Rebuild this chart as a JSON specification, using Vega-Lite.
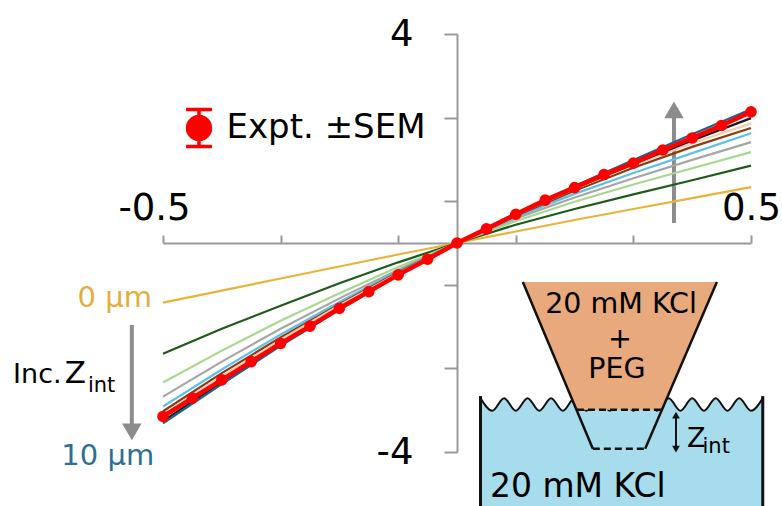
{
 "$schema": "https://vega.github.io/schema/vega-lite/v6.json",
 "width": 588,
 "height": 418,
 "autosize": "none",
 "padding": {"left": 163, "top": 34, "right": 31, "bottom": 54},
 "background": "white",
 "config": {"view": {"stroke": null}, "font": "DejaVu Sans"},
 "datasets": {
  "sim": [
   {"z":"0 µm","x":-0.5,"y":-1.14},{"z":"0 µm","x":-0.4,"y":-0.91},{"z":"0 µm","x":-0.3,"y":-0.68},{"z":"0 µm","x":-0.2,"y":-0.45},{"z":"0 µm","x":-0.1,"y":-0.22},{"z":"0 µm","x":0,"y":0},{"z":"0 µm","x":0.1,"y":0.22},{"z":"0 µm","x":0.2,"y":0.44},{"z":"0 µm","x":0.3,"y":0.65},{"z":"0 µm","x":0.4,"y":0.86},{"z":"0 µm","x":0.5,"y":1.07},
   {"z":"1 µm","x":-0.5,"y":-2.12},{"z":"1 µm","x":-0.4,"y":-1.64},{"z":"1 µm","x":-0.3,"y":-1.20},{"z":"1 µm","x":-0.2,"y":-0.77},{"z":"1 µm","x":-0.1,"y":-0.37},{"z":"1 µm","x":0,"y":0},{"z":"1 µm","x":0.1,"y":0.35},{"z":"1 µm","x":0.2,"y":0.65},{"z":"1 µm","x":0.3,"y":0.93},{"z":"1 µm","x":0.4,"y":1.20},{"z":"1 µm","x":0.5,"y":1.48},
   {"z":"2 µm","x":-0.5,"y":-2.67},{"z":"2 µm","x":-0.4,"y":-2.06},{"z":"2 µm","x":-0.3,"y":-1.49},{"z":"2 µm","x":-0.2,"y":-0.96},{"z":"2 µm","x":-0.1,"y":-0.46},{"z":"2 µm","x":0,"y":0},{"z":"2 µm","x":0.1,"y":0.42},{"z":"2 µm","x":0.2,"y":0.79},{"z":"2 µm","x":0.3,"y":1.12},{"z":"2 µm","x":0.4,"y":1.43},{"z":"2 µm","x":0.5,"y":1.74},
   {"z":"3 µm","x":-0.5,"y":-2.94},{"z":"3 µm","x":-0.4,"y":-2.27},{"z":"3 µm","x":-0.3,"y":-1.64},{"z":"3 µm","x":-0.2,"y":-1.06},{"z":"3 µm","x":-0.1,"y":-0.51},{"z":"3 µm","x":0,"y":0},{"z":"3 µm","x":0.1,"y":0.47},{"z":"3 µm","x":0.2,"y":0.87},{"z":"3 µm","x":0.3,"y":1.24},{"z":"3 µm","x":0.4,"y":1.59},{"z":"3 µm","x":0.5,"y":1.93},
   {"z":"4 µm","x":-0.5,"y":-3.13},{"z":"4 µm","x":-0.4,"y":-2.42},{"z":"4 µm","x":-0.3,"y":-1.75},{"z":"4 µm","x":-0.2,"y":-1.13},{"z":"4 µm","x":-0.1,"y":-0.54},{"z":"4 µm","x":0,"y":0},{"z":"4 µm","x":0.1,"y":0.50},{"z":"4 µm","x":0.2,"y":0.94},{"z":"4 µm","x":0.3,"y":1.34},{"z":"4 µm","x":0.4,"y":1.72},{"z":"4 µm","x":0.5,"y":2.10},
   {"z":"5 µm","x":-0.5,"y":-3.22},{"z":"5 µm","x":-0.4,"y":-2.49},{"z":"5 µm","x":-0.3,"y":-1.81},{"z":"5 µm","x":-0.2,"y":-1.17},{"z":"5 µm","x":-0.1,"y":-0.56},{"z":"5 µm","x":0,"y":0},{"z":"5 µm","x":0.1,"y":0.52},{"z":"5 µm","x":0.2,"y":1.00},{"z":"5 µm","x":0.3,"y":1.44},{"z":"5 µm","x":0.4,"y":1.84},{"z":"5 µm","x":0.5,"y":2.20},
   {"z":"6 µm","x":-0.5,"y":-3.28},{"z":"6 µm","x":-0.4,"y":-2.55},{"z":"6 µm","x":-0.3,"y":-1.85},{"z":"6 µm","x":-0.2,"y":-1.19},{"z":"6 µm","x":-0.1,"y":-0.58},{"z":"6 µm","x":0,"y":0},{"z":"6 µm","x":0.1,"y":0.54},{"z":"6 µm","x":0.2,"y":1.04},{"z":"6 µm","x":0.3,"y":1.49},{"z":"6 µm","x":0.4,"y":1.91},{"z":"6 µm","x":0.5,"y":2.29},
   {"z":"8 µm","x":-0.5,"y":-3.41},{"z":"8 µm","x":-0.4,"y":-2.66},{"z":"8 µm","x":-0.3,"y":-1.94},{"z":"8 µm","x":-0.2,"y":-1.26},{"z":"8 µm","x":-0.1,"y":-0.61},{"z":"8 µm","x":0,"y":0},{"z":"8 µm","x":0.1,"y":0.55},{"z":"8 µm","x":0.2,"y":1.05},{"z":"8 µm","x":0.3,"y":1.51},{"z":"8 µm","x":0.4,"y":1.96},{"z":"8 µm","x":0.5,"y":2.39},
   {"z":"10 µm","x":-0.5,"y":-3.45},{"z":"10 µm","x":-0.4,"y":-2.70},{"z":"10 µm","x":-0.3,"y":-1.97},{"z":"10 µm","x":-0.2,"y":-1.28},{"z":"10 µm","x":-0.1,"y":-0.62},{"z":"10 µm","x":0,"y":0},{"z":"10 µm","x":0.1,"y":0.57},{"z":"10 µm","x":0.2,"y":1.09},{"z":"10 µm","x":0.3,"y":1.59},{"z":"10 µm","x":0.4,"y":2.08},{"z":"10 µm","x":0.5,"y":2.56}
  ],
  "expt": [
   {"x":-0.5,"y":-3.32},{"x":-0.45,"y":-2.97},{"x":-0.4,"y":-2.62},{"x":-0.35,"y":-2.27},{"x":-0.3,"y":-1.92},{"x":-0.25,"y":-1.59},{"x":-0.2,"y":-1.25},{"x":-0.15,"y":-0.93},{"x":-0.1,"y":-0.61},{"x":-0.05,"y":-0.31},{"x":0,"y":0},{"x":0.05,"y":0.27},{"x":0.1,"y":0.55},{"x":0.15,"y":0.82},{"x":0.2,"y":1.06},{"x":0.25,"y":1.31},{"x":0.3,"y":1.53},{"x":0.35,"y":1.78},{"x":0.4,"y":2.01},{"x":0.45,"y":2.25},{"x":0.5,"y":2.51}
  ],
  "wave": [
   {"x":0.04,"y":-2.97},{"x":0.06,"y":-3.21},{"x":0.08,"y":-2.97},{"x":0.10,"y":-3.21},{"x":0.12,"y":-2.97},{"x":0.14,"y":-3.21},{"x":0.16,"y":-2.97},{"x":0.18,"y":-3.21},{"x":0.20,"y":-2.97},{"x":0.22,"y":-3.21},{"x":0.24,"y":-2.97},{"x":0.26,"y":-3.21},{"x":0.28,"y":-2.97},{"x":0.30,"y":-3.21},{"x":0.32,"y":-2.97},{"x":0.34,"y":-3.21},{"x":0.36,"y":-2.97},{"x":0.38,"y":-3.21},{"x":0.40,"y":-2.97},{"x":0.42,"y":-3.21},{"x":0.44,"y":-2.97},{"x":0.46,"y":-3.21},{"x":0.48,"y":-2.97},{"x":0.50,"y":-3.21},{"x":0.52,"y":-2.97}
  ],
  "bathEdges": [
   {"x":0.04,"y":-2.93,"y2":-5.4},{"x":0.52,"y":-2.93,"y2":-5.4}
  ],
  "pipette": [
   {"y":-0.745,"x":0.112,"x2":0.442},{"y":-3.19,"x":0.204,"x2":0.350}
  ],
  "sides": [
   {"seg":"left","x":0.112,"y":-0.745},{"seg":"left","x":0.231,"y":-3.937},
   {"seg":"right","x":0.442,"y":-0.745},{"seg":"right","x":0.320,"y":-3.937}
  ],
  "dashes": [
   {"seg":"surface","x":0.204,"y":-3.19},{"seg":"surface","x":0.350,"y":-3.19},
   {"seg":"tip","x":0.231,"y":-3.937},{"seg":"tip","x":0.320,"y":-3.937}
  ],
  "shafts": [
   {"arrow":"up","x":0.369,"y":0.382,"y2":2.55},
   {"arrow":"down","x":-0.553,"y":-1.567,"y2":-3.61},
   {"arrow":"zint","x":0.3724,"y":-3.28,"y2":-3.96}
  ],
  "heads": [
   {"arrow":"up","dir":"up","x":0.369,"y":2.547},
   {"arrow":"down","dir":"down","x":-0.553,"y":-3.615},
   {"arrow":"zint","dir":"up","x":0.3724,"y":-3.296},
   {"arrow":"zint","dir":"down","x":0.3724,"y":-3.946}
  ],
  "texts": [
   {"g":"gold","t":"0 µm","x":-0.582,"y":-1.217},
   {"g":"teal","t":"10 µm","x":-0.594,"y":-4.242},
   {"g":"inc","t":"Inc.","x":-0.755,"y":-2.675},
   {"g":"zbig","t":"Z","x":-0.667,"y":-2.675},
   {"g":"sub","t":"int","x":-0.6276,"y":-2.847},
   {"g":"pip","t":"20 mM KCl","x":0.279,"y":-1.338},
   {"g":"pip","t":"+","x":0.277,"y":-2.006},
   {"g":"pip","t":"PEG","x":0.272,"y":-2.58},
   {"g":"bath","t":"20 mM KCl","x":0.0561,"y":-4.854},
   {"g":"zsmall","t":"Z","x":0.391,"y":-3.898},
   {"g":"sub","t":"int","x":0.4175,"y":-4.013}
  ]
 },
 "encoding": {
  "x": {"field": "x", "type": "quantitative",
   "scale": {"domain": [-0.5, 0.5], "nice": false, "zero": false},
   "axis": {"orient": "top", "offset": -209, "title": null, "grid": false,
    "values": [-0.5, -0.3, -0.1, 0.1, 0.3, 0.5],
    "labelExpr": "datum.value == 0.5 ? '0.5' : (datum.value == -0.5 ? '-0.5' : '')",
    "labelFont": "DejaVu Sans", "labelFontSize": 37, "labelColor": "#000000",
    "labelFlush": false, "labelOverlap": false, "labelBound": false, "labelPadding": 8,
    "labelOffset": {"condition": {"test": "datum.value < 0", "value": -9}, "value": 0},
    "domainColor": "#999999", "domainWidth": 2, "tickColor": "#999999", "tickWidth": 2, "tickSize": 8}},
  "y": {"field": "y", "type": "quantitative",
   "scale": {"domain": [-4, 4], "nice": false, "zero": false},
   "axis": {"orient": "left", "offset": -294, "title": null, "grid": false,
    "values": [-4, -2.4, -0.8, 0.8, 2.4, 4],
    "labelExpr": "datum.value == 4 ? '4' : (datum.value == -4 ? '-4' : '')",
    "labelFont": "DejaVu Sans", "labelFontSize": 37, "labelColor": "#000000",
    "labelFlush": false, "labelOverlap": false, "labelBound": false, "labelPadding": 31,
    "labelAlign": "right", "labelBaseline": "middle",
    "domainColor": "#999999", "domainWidth": 2, "tickColor": "#999999", "tickWidth": 2, "tickSize": 13}}
 },
 "layer": [
  {"data": {"name": "wave"}, "mark": {"type": "area", "color": "#a6dcec", "interpolate": "monotone"},
   "encoding": {"y2": {"datum": -5.4}}},
  {"data": {"name": "wave"}, "mark": {"type": "line", "color": "#111111", "strokeWidth": 2, "interpolate": "monotone"},
   "encoding": {}},
  {"data": {"name": "bathEdges"}, "mark": {"type": "rule", "color": "#111111", "strokeWidth": 3},
   "encoding": {"y2": {"field": "y2"}}},
  {"data": {"name": "pipette"}, "mark": {"type": "area", "orient": "horizontal", "color": "#e8a97c"},
   "encoding": {"x2": {"field": "x2"}}},
  {"data": {"name": "sides"}, "mark": {"type": "line", "color": "#111111", "strokeWidth": 2.5},
   "encoding": {"detail": {"field": "seg"}}},
  {"data": {"name": "dashes"}, "mark": {"type": "line", "color": "#111111", "strokeWidth": 2.5, "strokeDash": [7, 4]},
   "encoding": {"detail": {"field": "seg"}}},
  {"data": {"name": "shafts"}, "transform": [{"filter": "datum.arrow != 'zint'"}],
   "mark": {"type": "rule", "color": "#8c8c8c", "strokeWidth": 4},
   "encoding": {"y2": {"field": "y2"}}},
  {"data": {"name": "heads"}, "transform": [{"filter": "datum.arrow != 'zint'"}],
   "mark": {"type": "point", "filled": true, "color": "#8c8c8c", "size": 380, "opacity": 1},
   "encoding": {"shape": {"field": "dir", "type": "nominal", "scale": {"domain": ["up", "down"], "range": ["triangle-up", "triangle-down"]}, "legend": null}}},
  {"data": {"name": "shafts"}, "transform": [{"filter": "datum.arrow == 'zint'"}],
   "mark": {"type": "rule", "color": "#111111", "strokeWidth": 2},
   "encoding": {"y2": {"field": "y2"}}},
  {"data": {"name": "heads"}, "transform": [{"filter": "datum.arrow == 'zint'"}],
   "mark": {"type": "point", "filled": true, "color": "#111111", "size": 60, "opacity": 1},
   "encoding": {"shape": {"field": "dir", "type": "nominal", "scale": {"domain": ["up", "down"], "range": ["triangle-up", "triangle-down"]}, "legend": null}}},
  {"data": {"name": "texts"}, "transform": [{"filter": "datum.g == 'gold'"}],
   "mark": {"type": "text", "font": "DejaVu Sans", "fontSize": 29, "color": "#e3ad3c", "align": "center", "baseline": "alphabetic"},
   "encoding": {"text": {"field": "t"}}},
  {"data": {"name": "texts"}, "transform": [{"filter": "datum.g == 'teal'"}],
   "mark": {"type": "text", "font": "DejaVu Sans", "fontSize": 29, "color": "#2d6f91", "align": "center", "baseline": "alphabetic"},
   "encoding": {"text": {"field": "t"}}},
  {"data": {"name": "texts"}, "transform": [{"filter": "datum.g == 'inc'"}],
   "mark": {"type": "text", "font": "DejaVu Sans", "fontSize": 27, "color": "#000000", "align": "left", "baseline": "alphabetic"},
   "encoding": {"text": {"field": "t"}}},
  {"data": {"name": "texts"}, "transform": [{"filter": "datum.g == 'zbig'"}],
   "mark": {"type": "text", "font": "DejaVu Sans", "fontSize": 31, "color": "#000000", "align": "left", "baseline": "alphabetic"},
   "encoding": {"text": {"field": "t"}}},
  {"data": {"name": "texts"}, "transform": [{"filter": "datum.g == 'zsmall'"}],
   "mark": {"type": "text", "font": "DejaVu Sans", "fontSize": 27, "color": "#000000", "align": "left", "baseline": "alphabetic"},
   "encoding": {"text": {"field": "t"}}},
  {"data": {"name": "texts"}, "transform": [{"filter": "datum.g == 'sub'"}],
   "mark": {"type": "text", "font": "DejaVu Sans", "fontSize": 21, "color": "#000000", "align": "left", "baseline": "alphabetic"},
   "encoding": {"text": {"field": "t"}}},
  {"data": {"name": "texts"}, "transform": [{"filter": "datum.g == 'pip'"}],
   "mark": {"type": "text", "font": "DejaVu Sans", "fontSize": 28.5, "color": "#000000", "align": "center", "baseline": "alphabetic"},
   "encoding": {"text": {"field": "t"}}},
  {"data": {"name": "texts"}, "transform": [{"filter": "datum.g == 'bath'"}],
   "mark": {"type": "text", "font": "DejaVu Sans", "fontSize": 33, "color": "#000000", "align": "left", "baseline": "alphabetic"},
   "encoding": {"text": {"field": "t"}}},
  {"data": {"name": "sim"}, "mark": {"type": "line", "strokeWidth": 2.2},
   "encoding": {"color": {"field": "z", "type": "nominal",
    "scale": {"domain": ["0 µm","1 µm","2 µm","3 µm","4 µm","5 µm","6 µm","8 µm","10 µm"],
              "range": ["#e8b339","#1f5a1a","#a6d98e","#a6a6a6","#5ec0e8","#8a3b12","#f8cbad","#1a1a1a","#21618c"]},
    "legend": null}}},
  {"data": {"name": "expt"}, "mark": {"type": "line", "color": "#ff0000", "strokeWidth": 4.5},
   "encoding": {}},
  {"data": {"name": "expt"}, "mark": {"type": "point", "filled": true, "size": 135, "opacity": 1, "strokeWidth": 0},
   "encoding": {"fill": {"datum": "Expt. ±SEM", "type": "nominal", "scale": {"range": ["#ff0000"]},
    "legend": {"orient": "none", "legendX": 15.5, "legendY": 73.5, "title": null, "padding": 0,
     "symbolType": "M-0.7,-1H0.7M0,-1V1M-0.7,1H0.7M0.62,0A0.62,0.62,0,1,1,-0.62,0A0.62,0.62,0,1,1,0.62,0Z",
     "symbolSize": 1369, "symbolStrokeColor": "#ff0000", "symbolFillColor": "#ff0000", "symbolStrokeWidth": 3.5,
     "labelFont": "DejaVu Sans", "labelFontSize": 34, "labelColor": "#000000", "labelOffset": 7, "labelLimit": 0,
     "encode": {"symbols": {"update": {"stroke": {"value": "#ff0000"}, "strokeWidth": {"value": 3.5}, "fill": {"value": "#ff0000"}, "opacity": {"value": 1}}}}}}}}
 ]
}
